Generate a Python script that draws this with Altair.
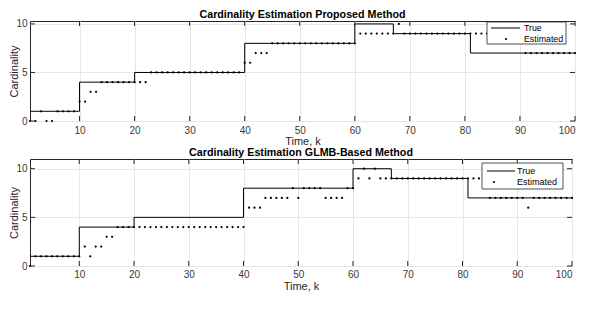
import altair as alt
import pandas as pd

# ---------------- data ----------------
k = list(range(1, 101))

# true cardinality: change points (step-after)
true_k = [1, 10, 20, 40, 60, 67, 81, 100]
true_v = [1, 4, 5, 8, 10, 9, 7, 7]

# estimated cardinality, proposed method (k = 1..100)
est_top = [
    0, 0, 1, 0, 0, 1, 1, 1, 1, 2,
    2, 3, 3, 4, 4, 4, 4, 4, 4, 4,
    4, 4, 5, 5, 5, 5, 5, 5, 5, 5,
    5, 5, 5, 5, 5, 5, 5, 5, 5, 6,
    6, 7, 7, 7, 8, 8, 8, 8, 8, 8,
    8, 8, 8, 8, 8, 8, 8, 8, 8, 8,
    9, 9, 9, 9, 9, 9, 9, 10, 9, 9,
    9, 9, 9, 9, 9, 9, 9, 9, 9, 9,
    9, 9, 9, 9, 9, 9, 9, 9, 9, 9,
    7, 7, 7, 7, 7, 7, 7, 7, 7, 7,
]

# estimated cardinality, GLMB-based method (k = 1..100)
est_bot = [
    0, 1, 1, 1, 1, 1, 1, 1, 1, 1,
    2, 1, 2, 2, 3, 3, 4, 4, 4, 4,
    4, 4, 4, 4, 4, 4, 4, 4, 4, 4,
    4, 4, 4, 4, 4, 4, 4, 4, 4, 4,
    6, 6, 6, 7, 7, 7, 7, 7, 8, 7,
    8, 8, 8, 8, 7, 7, 7, 7, 8, 8,
    9, 10, 9, 10, 9, 9, 9, 9, 9, 9,
    9, 9, 9, 9, 9, 9, 9, 9, 9, 9,
    9, 9, 9, 8, 7, 7, 7, 7, 7, 7,
    7, 6, 7, 7, 7, 7, 7, 7, 7, 7,
]

x_ticks = [10, 20, 30, 40, 50, 60, 70, 80, 90, 100]
y_ticks = [0, 5, 10]

titles = ["Cardinality Estimation Proposed Method",
          "Cardinality Estimation GLMB-Based Method"]
legend_labels = ["True", "Estimated"]

FONT = "Liberation Sans"
AX = "#262626"


def panel(title, est, width, height, ymax, lg, toff, lpad, tpad):
    xs = alt.Scale(domain=[1, 100], nice=False)
    ys = alt.Scale(domain=[0, ymax], nice=False)
    true_df = pd.DataFrame({"k": true_k, "v": true_v})
    est_df = pd.DataFrame({"k": k, "v": est})
    xax = alt.Axis(values=x_ticks, title="Time, k", format="d",
                   labelPadding=lpad, titlePadding=tpad)
    yax = alt.Axis(values=y_ticks, title="Cardinality", format="d")

    line = alt.Chart(true_df).mark_line(
        interpolate="step-after", color="black", strokeWidth=1
    ).encode(
        x=alt.X("k:Q", scale=xs, axis=xax),
        y=alt.Y("v:Q", scale=ys, axis=yax),
    )
    pts = alt.Chart(est_df).mark_point(
        filled=True, shape="circle", size=5, color="black", opacity=1
    ).encode(x=alt.X("k:Q", scale=xs), y=alt.Y("v:Q", scale=ys))

    xt = pd.DataFrame({"k": x_ticks})
    yt = pd.DataFrame({"v": y_ticks})
    tb = alt.Chart(xt).mark_rule(color=AX, strokeWidth=1).encode(
        x=alt.X("k:Q", scale=xs), y=alt.value(height), y2=alt.value(height - 5))
    tt = alt.Chart(xt).mark_rule(color=AX, strokeWidth=1).encode(
        x=alt.X("k:Q", scale=xs), y=alt.value(0), y2=alt.value(5))
    tl = alt.Chart(yt).mark_rule(color=AX, strokeWidth=1).encode(
        y=alt.Y("v:Q", scale=ys), x=alt.value(0), x2=alt.value(5))
    tr = alt.Chart(yt).mark_rule(color=AX, strokeWidth=1).encode(
        y=alt.Y("v:Q", scale=ys), x=alt.value(width - 5), x2=alt.value(width))

    one = pd.DataFrame({"d": [0]})
    box = alt.Chart(one).mark_rect(fill="white", stroke=AX, strokeWidth=0.8).encode(
        x=alt.value(lg["bx0"]), x2=alt.value(lg["bx1"]),
        y=alt.value(lg["by0"]), y2=alt.value(lg["by1"]))
    lline = alt.Chart(one).mark_rule(color="black", strokeWidth=1).encode(
        x=alt.value(lg["lx0"]), x2=alt.value(lg["lx1"]), y=alt.value(lg["ly1"]))
    ldot = alt.Chart(one).mark_point(filled=True, shape="circle", size=5,
                                     color="black", opacity=1).encode(
        x=alt.value(lg["dx"]), y=alt.value(lg["ly2"]))
    lt1 = alt.Chart(one).mark_text(align="left", baseline="middle", font=FONT,
                                   fontSize=lg["fs"], color="black").encode(
        x=alt.value(lg["tx"]), y=alt.value(lg["ly1"]), text=alt.value(legend_labels[0]))
    lt2 = alt.Chart(one).mark_text(align="left", baseline="middle", font=FONT,
                                   fontSize=lg["fs"], color="black").encode(
        x=alt.value(lg["tx"]), y=alt.value(lg["ly2"]), text=alt.value(legend_labels[1]))

    return alt.layer(line, pts, tb, tt, tl, tr, box, lline, ldot, lt1, lt2).properties(
        width=width, height=height,
        title=alt.TitleParams(title, font=FONT, fontSize=10.7, fontWeight="bold",
                              color="black", anchor="middle", offset=toff),
    )


lg_top = dict(bx0=457, bx1=536, by0=1, by1=23, lx0=461, lx1=490, ly1=7,
              dx=476, ly2=18, tx=494, fs=8.8)
lg_bot = dict(bx0=452, bx1=533, by0=4, by1=30, lx0=457, lx1=485, ly1=12,
              dx=464, ly2=23, tx=487, fs=9)

top = panel(titles[0], est_top, 545, 100, 10.3, lg_top, -2, 4, 0)
bot = panel(titles[1], est_bot, 542, 107, 11, lg_bot, 0, 3, 1)

chart = alt.vconcat(top, bot, spacing=-1).properties(
    padding=0
).configure_view(
    stroke=AX, strokeWidth=1
).configure_axis(
    domain=False, ticks=False, grid=True, gridColor="#e6e6e6", gridWidth=1,
    labelFont=FONT, labelFontSize=10, labelColor="#3a3a3a", labelPadding=3,
    titleFont=FONT, titleFontSize=11, titleFontWeight="normal", titleColor=AX,
    titlePadding=1,
).configure_axisY(titlePadding=-4)

chart.save("out.html", embed_options={"renderer": "svg", "actions": False})
